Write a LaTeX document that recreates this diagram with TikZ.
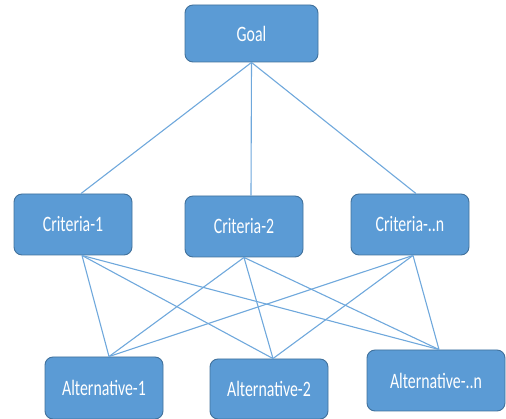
\documentclass[tikz,border=0pt]{standalone}
\usepackage{fontspec}
\newfontfamily\boxfont{Carlito}[FakeStretch=0.72]
\definecolor{boxfill}{HTML}{5B9BD5}
\definecolor{boxedge}{HTML}{41719C}
\definecolor{linkcol}{HTML}{6FA8DC}
\begin{document}
\begin{tikzpicture}[x=1pt,y=-1pt,
  box/.style={draw=boxedge,fill=boxfill,line width=0.9pt,rounded corners=8pt,
    text=white,font=\boxfont\fontsize{22}{24}\selectfont,inner sep=0pt},
  link/.style={draw=linkcol,line width=1.1pt}]
\useasboundingbox (0,0) rectangle (506,419);
\node[box,minimum width=133pt,minimum height=57pt] (goal) at (251.5,33.5) {Goal};
\node[box,minimum width=118pt,minimum height=61pt] (c1) at (73,224.5) {Criteria-1};
\node[box,minimum width=118pt,minimum height=61pt] (c2) at (244,226.5) {Criteria-2};
\node[box,minimum width=118pt,minimum height=61pt] (cn) at (410,224.5) {Criteria-..n};
\node[box,minimum width=118pt,minimum height=62pt] (a1) at (104,388) {Alternative-1};
\node[box,minimum width=118pt,minimum height=60pt] (a2) at (269,389) {Alternative-2};
\node[box,minimum width=138pt,minimum height=61pt] (an) at (436,380.5) {Alternative-..n};
\coordinate (g) at (goal.south);
\coordinate (c1t) at ([xshift=8pt]c1.north);
\coordinate (c2t) at ([xshift=7pt]c2.north);
\coordinate (cnt) at ([xshift=6pt]cn.north);
\coordinate (c1b) at ([xshift=9pt]c1.south);
\coordinate (c2b) at (c2.south);
\coordinate (cnb) at ([xshift=3pt]cn.south);
\coordinate (a1t) at ([xshift=5pt]a1.north);
\coordinate (a2t) at ([xshift=4pt]a2.north);
\coordinate (ant) at ([xshift=3pt]an.north);
\draw[link] (g) -- (c1t);
\draw[link] (g) -- (c2t);
\draw[link] (g) -- (cnt);
\foreach \c in {c1b,c2b,cnb}{
  \foreach \a in {a1t,a2t,ant}{
    \draw[link] (\c) -- (\a);
  }
}
\end{tikzpicture}
\end{document}
